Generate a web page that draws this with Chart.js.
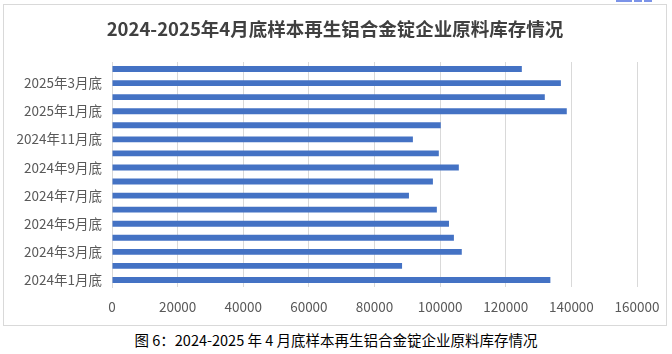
<!DOCTYPE html>
<html>
<head>
<meta charset="utf-8">
<script src="https://cdn.jsdelivr.net/npm/chart.js@4.4.1/dist/chart.umd.min.js"></script>
<style>
  html, body { margin: 0; padding: 0; background: #ffffff; width: 672px; height: 354px; overflow: hidden; }
  #frame { position: absolute; left: 3px; top: 4px; width: 662px; height: 320px; border: 1px solid #d9d9d9; }
  #c { display: block; }
  #title { position: absolute; left: 0; top: 12px; width: 662px; text-align: center;
    font-family: "Noto Sans CJK SC", sans-serif; font-size: 18.5px; font-weight: bold; color: #404040; line-height: 22px; }
  #caption { position: absolute; left: 0; top: 330px; width: 672px; text-align: center;
    font-family: "Noto Sans CJK SC", sans-serif; font-size: 14.5px; color: #000; line-height: 20px; }
  .tab { position: absolute; top: 0; height: 2px; background: #7b93e8; }
</style>
</head>
<body>
<div class="tab" style="left:616px;width:16px"></div>
<div class="tab" style="left:634px;width:8px"></div>
<div class="tab" style="left:644px;width:8px"></div>
<div id="frame">
  <canvas id="c" width="662" height="320"></canvas>
  <div id="title"></div>
</div>
<div id="caption">图 6：2024-2025 年 4 月底样本再生铝合金锭企业原料库存情况</div>
<script>
const titleText = "2024-2025年4月底样本再生铝合金锭企业原料库存情况";
const categories = [
  "2024年1月底", "2024年2月底", "2024年3月底", "2024年4月底",
  "2024年5月底", "2024年6月底", "2024年7月底", "2024年8月底",
  "2024年9月底", "2024年10月底", "2024年11月底", "2024年12月底",
  "2025年1月底", "2025年2月底", "2025年3月底", "2025年4月底"
];
const inventory = [
  133600, 88400, 106600, 104200,
  102700, 99000, 90500, 97800,
  105700, 99600, 91700, 100200,
  138600, 131900, 136800, 124900
];
const xTicks = [0, 20000, 40000, 60000, 80000, 100000, 120000, 140000, 160000];

document.getElementById("title").textContent = titleText;

const FONT = "'Noto Sans CJK SC', sans-serif";
const axisColor = "#595959";

new Chart(document.getElementById("c"), {
  type: "bar",
  data: {
    labels: categories,
    datasets: [{
      data: inventory,
      backgroundColor: "#4472C4",
      borderWidth: 0,
      categoryPercentage: 1,
      barPercentage: 0.42
    }]
  },
  options: {
    indexAxis: "y",
    responsive: false,
    animation: false,
    layout: { padding: { left: 0, right: 29, top: 57, bottom: 0 } },
    plugins: {
      legend: { display: false },
      tooltip: { enabled: false },
      title: { display: false }
    },
    scales: {
      x: {
        min: 0, max: 160000,
        afterBuildTicks: (axis) => { axis.ticks = xTicks.map(v => ({ value: v })); },
        grid: { color: "#d9d9d9", lineWidth: 1, drawTicks: false },
        border: { display: false },
        ticks: {
          color: axisColor, font: { family: FONT, size: 13.5 }, padding: 12, maxRotation: 0,
          callback: (v) => String(v)
        },
        afterFit: (axis) => { axis.height = 38; axis.paddingLeft = 0; axis.paddingRight = 0; }
      },
      y: {
        reverse: true,
        grid: { display: false, drawTicks: false },
        border: { display: true, color: "#d9d9d9", width: 1 },
        ticks: {
          autoSkip: false,
          color: axisColor,
          font: { family: FONT, size: 13.5 },
          padding: 10,
          callback: function (value, index) { return index % 2 === 0 ? categories[index] : ""; }
        },
        afterFit: (axis) => { axis.width = 108; axis.paddingTop = 0; axis.paddingBottom = 0; }
      }
    }
  }
});
</script>
</body>
</html>
